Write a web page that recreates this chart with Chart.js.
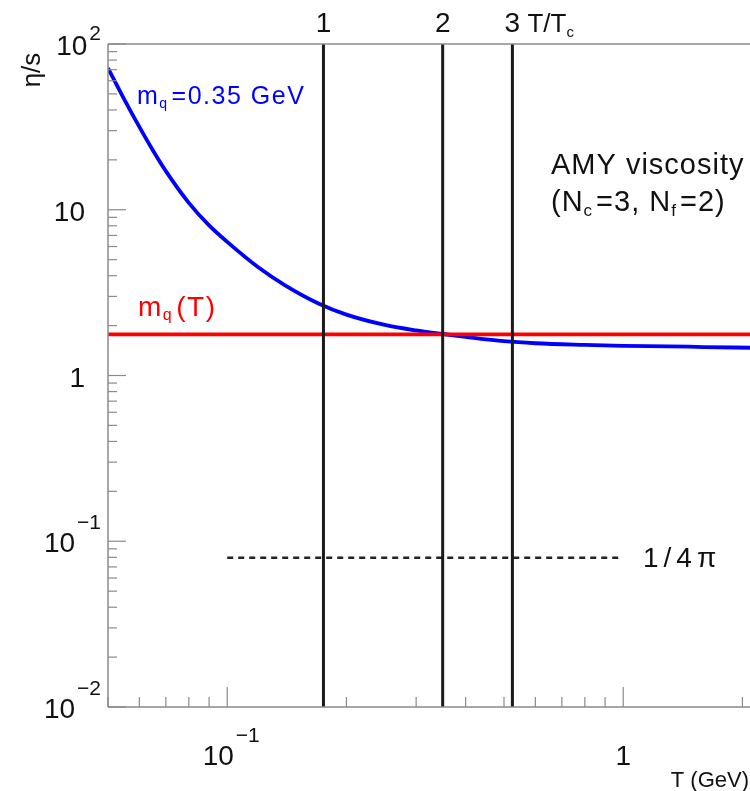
<!DOCTYPE html>
<html>
<head>
<meta charset="utf-8">
<script src="https://cdn.jsdelivr.net/npm/chart.js@4.4.1/dist/chart.umd.min.js"></script>
<style>
  html, body { margin: 0; padding: 0; background: #fff; }
</style>
</head>
<body>
<canvas id="viscChart" width="750" height="791"></canvas>
<script>
// eta/s vs T, AMY viscosity with constant quark mass
const tempGeV  = [0.05, 0.055, 0.06, 0.065, 0.07, 0.08, 0.09, 0.1, 0.12, 0.14, 0.17, 0.2, 0.25, 0.3, 0.35, 0.4, 0.5, 0.6, 0.8, 1.0, 1.3, 1.6, 2.1];
const etaOverS = [71.6, 46.2, 31.6, 22.7, 17.1, 11.0, 8.04, 6.40, 4.48, 3.50, 2.72, 2.33, 2.02, 1.87, 1.78, 1.71, 1.61, 1.565, 1.53, 1.51, 1.50, 1.485, 1.47];

// m_q(T) result is flat
const mqTRange = [0.05, 2.1];
const mqTValue = 1.77;

// KSS bound 1/4pi
const kssRange = [0.1, 1.0];
const kssValue = 0.0796;

// T/Tc = 1, 2, 3 with Tc = 0.175 GeV
const ttcLabels = ['1', '2', '3'];
const ttcGeV = [0.175, 0.35, 0.525];

const yTickValues = [0.01, 0.1, 1, 10, 100];
const yTickLabels = [['10', '−2'], ['10', '−1'], ['1', ''], ['10', ''], ['10', '2']];
const xTickValues = [0.1, 1];
const xTickLabels = [['10', '−1'], ['1', '']];

const FONT = '"Liberation Sans", Arial, sans-serif';

function line(ctx, x1, y1, x2, y2) {
    ctx.beginPath();
    ctx.moveTo(x1, y1);
    ctx.lineTo(x2, y2);
    ctx.stroke();
}

// base + superscript, right edge (or centre) at xr
function powLabel(ctx, base, exp, xr, baseline, align) {
    ctx.font = `28px ${FONT}`;
    const wb = ctx.measureText(base).width;
    ctx.font = `21px ${FONT}`;
    const we = exp ? ctx.measureText(exp).width + 2 : 0;
    let x0 = xr - wb - we;
    if (align === 'center') x0 = xr - (wb + we) / 2;
    ctx.textAlign = 'left';
    ctx.font = `28px ${FONT}`;
    ctx.fillText(base, x0, baseline);
    if (exp) {
        ctx.font = `21px ${FONT}`;
        const off = exp.startsWith('−') ? 23 : 15;
        ctx.fillText(exp, x0 + wb + 2, baseline - off);
    }
}

// text with subscripts: parts = [text, size, dy]
function richText(ctx, parts, x, y, spacing) {
    let xp = x;
    parts.forEach(([s, sz, dy]) => {
        ctx.font = `${sz}px ${FONT}`;
        ctx.letterSpacing = spacing + 'px';
        ctx.fillText(s, xp, y + dy);
        xp += ctx.measureText(s).width + (dy ? 3 : 0);
    });
    ctx.letterSpacing = '0px';
}

const framePlugin = {
    id: 'frame',
    afterDraw(chart) {
        const ctx = chart.ctx;
        const { left, right, top, bottom } = chart.chartArea;
        const xs = chart.scales.x, ys = chart.scales.y;
        ctx.save();

        // frame
        ctx.strokeStyle = '#8a8a8a';
        ctx.lineWidth = 1.5;
        line(ctx, left, top, left, bottom);
        line(ctx, left, top, right, top);
        line(ctx, left, bottom, right, bottom);

        // log ticks, drawn inward
        ctx.lineWidth = 1.2;
        for (let d = -2; d <= 2; d++) {
            for (let k = 1; k <= 9; k++) {
                const v = k * Math.pow(10, d);
                if (v >= 0.0099 && v <= 100.01) {
                    const y = ys.getPixelForValue(v);
                    line(ctx, left, y, left + (k === 1 ? 18 : 9), y);
                }
                if (v >= xs.min && v <= xs.max) {
                    const x = xs.getPixelForValue(v);
                    line(ctx, x, bottom, x, bottom - (k === 1 ? 20 : 10));
                }
            }
        }

        ctx.fillStyle = '#111';
        ctx.textBaseline = 'alphabetic';

        // y tick labels
        yTickValues.forEach((v, i) => {
            const [b, e] = yTickLabels[i];
            const y = ys.getPixelForValue(v);
            powLabel(ctx, b, e, e ? 101 : 85, y + 11);
        });

        // x tick labels
        xTickValues.forEach((v, i) => {
            const [b, e] = xTickLabels[i];
            const x = xs.getPixelForValue(v);
            powLabel(ctx, b, e, e ? x + 4 : x, 765, 'center');
        });

        // T/Tc labels on top
        ctx.font = `28px ${FONT}`;
        ctx.textAlign = 'center';
        ttcGeV.forEach((t, i) => {
            ctx.fillText(ttcLabels[i], xs.getPixelForValue(t), 32);
        });
        const x3 = xs.getPixelForValue(ttcGeV[2]);
        ctx.textAlign = 'left';
        richText(ctx, [['T/T', 26, 0], ['c', 15, 5]], x3 + 15, 32, 0);

        // axis titles
        ctx.font = `22px ${FONT}`;
        ctx.textAlign = 'right';
        ctx.fillText('T (GeV)', 749, 787);

        ctx.save();
        ctx.translate(40, 70);
        ctx.rotate(-Math.PI / 2);
        ctx.textAlign = 'center';
        ctx.font = `26px ${FONT}`;
        ctx.fillText('η/s', 0, 0);
        ctx.restore();

        // annotations
        ctx.textAlign = 'left';
        richText(ctx, [['AMY viscosity', 29, 0]], 551, 174, 1);
        richText(ctx, [['(N', 29, 0], ['c', 17, 5], ['=3, N', 29, 0], ['f', 17, 5], ['=2)', 29, 0]], 551, 211, 1);

        ctx.font = `28px ${FONT}`;
        ctx.letterSpacing = '5px';
        ctx.fillText('1/4π', 643, 567);
        ctx.letterSpacing = '0px';

        // blue label
        ctx.fillStyle = '#0000ff';
        richText(ctx, [['m', 25, 0], ['q', 14, 4], ['=0.35 GeV', 25, 0]], 137, 104, 1.5);

        // red label
        ctx.fillStyle = '#ff0000';
        richText(ctx, [['m', 28, 0], ['q', 16, 4], ['(T)', 28, 0]], 138, 316, 1.5);

        ctx.restore();
    }
};

const curvePoints = tempGeV.map((t, i) => ({ x: t, y: etaOverS[i] }));
const verticalSets = ttcGeV.map(t => ({
    data: [{ x: t, y: 0.01 }, { x: t, y: 100 }],
    borderColor: '#1a1a1a',
    borderWidth: 3,
    pointRadius: 0,
    order: 0
}));

new Chart(document.getElementById('viscChart'), {
    type: 'line',
    data: {
        datasets: [
            {
                data: curvePoints,
                borderColor: '#0000ff',
                borderWidth: 3.8,
                pointRadius: 0,
                cubicInterpolationMode: 'monotone',
                order: 2
            },
            {
                data: [{ x: mqTRange[0], y: mqTValue }, { x: mqTRange[1], y: mqTValue }],
                borderColor: '#ff0000',
                borderWidth: 3.8,
                pointRadius: 0,
                order: 1
            },
            {
                data: [{ x: kssRange[0], y: kssValue }, { x: kssRange[1], y: kssValue }],
                borderColor: '#222',
                borderWidth: 2.5,
                borderDash: [6, 5],
                pointRadius: 0,
                order: 3
            },
            ...verticalSets
        ]
    },
    options: {
        responsive: false,
        animation: false,
        devicePixelRatio: 1,
        layout: { padding: { left: 108, top: 44, right: 0, bottom: 84 } },
        plugins: { legend: { display: false }, tooltip: { enabled: false } },
        scales: {
            x: {
                type: 'logarithmic',
                min: 0.05,
                max: 2.09,
                ticks: { display: false },
                grid: { display: false },
                border: { display: false },
                afterFit: s => { s.height = 0; }
            },
            y: {
                type: 'logarithmic',
                min: 0.01,
                max: 100,
                ticks: { display: false },
                grid: { display: false },
                border: { display: false },
                afterFit: s => { s.width = 0; }
            }
        }
    },
    plugins: [framePlugin]
});
</script>
</body>
</html>
